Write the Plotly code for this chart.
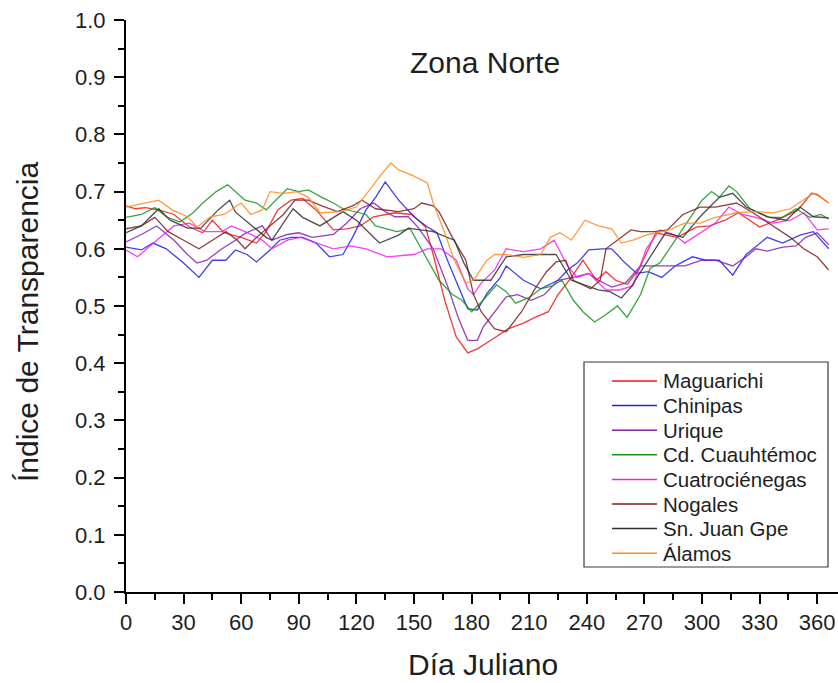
import plotly.graph_objects as go

# --- Índice de transparencia diario, estaciones de la zona norte ---
maguarichi_dia = [0, 5, 10, 17, 25, 33, 40, 45, 51, 60, 68, 73, 79, 86, 92, 99, 108, 115, 122, 129,
                  140, 149, 156, 160, 166, 172, 178, 183, 190, 199, 207, 213, 220, 225, 232, 238, 245,
                  250, 255, 261, 267, 276, 287, 297, 304, 312, 319, 330, 339, 350, 357, 360, 366]
maguarichi_val = [0.675, 0.670, 0.672, 0.668, 0.660, 0.638, 0.628, 0.650, 0.628, 0.620, 0.610, 0.630,
                  0.668, 0.685, 0.688, 0.668, 0.633, 0.635, 0.640, 0.656, 0.663, 0.660, 0.638, 0.590,
                  0.510, 0.446, 0.418, 0.425, 0.440, 0.460, 0.470, 0.480, 0.490, 0.520, 0.550, 0.580,
                  0.545, 0.560, 0.545, 0.538, 0.563, 0.628, 0.620, 0.638, 0.640, 0.650, 0.663, 0.638,
                  0.650, 0.668, 0.697, 0.695, 0.680]

chinipas_dia = [0, 8, 14, 21, 30, 38, 45, 52, 57, 63, 68, 75, 80, 86, 92, 99, 106, 113, 118, 125,
                130, 135, 142, 150, 157, 162, 168, 174, 178, 183, 188, 195, 198, 207, 216, 225, 230,
                235, 241, 248, 253, 260, 266, 272, 279, 286, 295, 302, 309, 316, 323, 334, 342, 351,
                358, 366]
chinipas_val = [0.603, 0.598, 0.610, 0.600, 0.575, 0.550, 0.580, 0.580, 0.598, 0.590, 0.577, 0.598,
                0.615, 0.620, 0.620, 0.610, 0.586, 0.590, 0.620, 0.668, 0.690, 0.717, 0.685, 0.656,
                0.638, 0.628, 0.575, 0.528, 0.495, 0.493, 0.522, 0.550, 0.570, 0.545, 0.530, 0.545,
                0.563, 0.575, 0.598, 0.600, 0.600, 0.575, 0.557, 0.560, 0.550, 0.570, 0.586, 0.580,
                0.580, 0.554, 0.590, 0.620, 0.610, 0.624, 0.630, 0.600]

urique_dia = [0, 8, 16, 25, 32, 37, 42, 50, 57, 62, 71, 76, 84, 90, 97, 108, 115, 122, 129, 135,
              140, 147, 152, 160, 168, 173, 178, 183, 186, 192, 198, 204, 211, 218, 225, 233, 241,
              246, 253, 260, 268, 275, 282, 291, 300, 307, 316, 323, 328, 334, 342, 349, 354, 360, 366]
urique_val = [0.612, 0.625, 0.640, 0.615, 0.590, 0.575, 0.580, 0.600, 0.615, 0.627, 0.640, 0.615,
              0.625, 0.628, 0.620, 0.625, 0.645, 0.670, 0.680, 0.665, 0.656, 0.656, 0.638, 0.600,
              0.530, 0.480, 0.440, 0.440, 0.463, 0.490, 0.516, 0.520, 0.510, 0.520, 0.545, 0.550,
              0.557, 0.545, 0.533, 0.540, 0.570, 0.570, 0.570, 0.570, 0.580, 0.580, 0.570, 0.586,
              0.600, 0.596, 0.603, 0.605, 0.620, 0.628, 0.607]

cuauhtemoc_dia = [0, 8, 15, 21, 28, 35, 40, 47, 53, 57, 62, 68, 73, 78, 84, 90, 95, 102, 108, 113,
                  125, 130, 141, 148, 154, 163, 170, 175, 180, 186, 193, 198, 203, 210, 216, 222, 227,
                  233, 238, 244, 250, 256, 261, 268, 273, 278, 283, 289, 295, 300, 305, 309, 314, 318,
                  325, 335, 342, 349, 356, 362, 366]
cuauhtemoc_val = [0.655, 0.660, 0.672, 0.656, 0.647, 0.663, 0.680, 0.700, 0.712, 0.700, 0.685, 0.680,
                  0.668, 0.685, 0.705, 0.700, 0.703, 0.690, 0.680, 0.670, 0.660, 0.640, 0.630, 0.635,
                  0.600, 0.545, 0.520, 0.510, 0.490, 0.510, 0.537, 0.525, 0.505, 0.515, 0.530, 0.535,
                  0.545, 0.510, 0.490, 0.472, 0.485, 0.500, 0.480, 0.520, 0.566, 0.575, 0.600, 0.630,
                  0.660, 0.685, 0.700, 0.690, 0.710, 0.700, 0.670, 0.655, 0.655, 0.670, 0.655, 0.660,
                  0.652]

cuatrocienegas_dia = [0, 6, 16, 25, 33, 41, 50, 55, 62, 71, 76, 84, 91, 99, 108, 117, 125, 136, 150,
                      157, 164, 172, 178, 181, 185, 192, 198, 207, 216, 223, 230, 235, 241, 250, 257,
                      264, 271, 278, 286, 291, 299, 307, 314, 321, 328, 337, 346, 353, 360, 366]
cuatrocienegas_val = [0.598, 0.586, 0.615, 0.640, 0.645, 0.630, 0.630, 0.640, 0.630, 0.615, 0.600,
                      0.615, 0.620, 0.610, 0.600, 0.605, 0.600, 0.586, 0.590, 0.600, 0.600, 0.580,
                      0.530, 0.520, 0.540, 0.563, 0.600, 0.595, 0.600, 0.615, 0.570, 0.550, 0.557,
                      0.528, 0.528, 0.535, 0.600, 0.633, 0.624, 0.610, 0.628, 0.645, 0.673, 0.660,
                      0.655, 0.645, 0.650, 0.663, 0.633, 0.635]

nogales_dia = [0, 8, 15, 22, 30, 38, 45, 52, 58, 62, 68, 75, 82, 88, 95, 102, 110, 118, 123, 130,
               142, 150, 154, 160, 163, 170, 177, 181, 185, 192, 198, 206, 213, 219, 224, 229, 233,
               242, 247, 250, 258, 263, 268, 275, 282, 290, 299, 307, 318, 328, 337, 346, 353, 360, 366]
nogales_val = [0.635, 0.640, 0.655, 0.630, 0.615, 0.600, 0.615, 0.630, 0.615, 0.600, 0.620, 0.640,
               0.660, 0.685, 0.685, 0.675, 0.665, 0.675, 0.685, 0.670, 0.665, 0.670, 0.680, 0.675,
               0.665, 0.620, 0.580, 0.520, 0.490, 0.460, 0.455, 0.490, 0.530, 0.560, 0.577, 0.580,
               0.545, 0.530, 0.545, 0.600, 0.620, 0.633, 0.630, 0.630, 0.633, 0.660, 0.673, 0.673,
               0.680, 0.660, 0.640, 0.620, 0.600, 0.586, 0.563]

sn_juan_dia = [0, 8, 17, 23, 32, 39, 48, 54, 57, 64, 73, 76, 82, 87, 92, 101, 113, 120, 132, 142,
               147, 160, 171, 176, 181, 190, 198, 207, 216, 224, 232, 240, 246, 252, 258, 263, 272,
               281, 290, 299, 309, 316, 323, 334, 344, 351, 358, 366]
sn_juan_val = [0.628, 0.640, 0.670, 0.650, 0.636, 0.636, 0.668, 0.685, 0.664, 0.645, 0.620, 0.615,
               0.645, 0.670, 0.655, 0.640, 0.665, 0.650, 0.610, 0.624, 0.636, 0.630, 0.615, 0.575,
               0.545, 0.545, 0.586, 0.590, 0.590, 0.590, 0.545, 0.535, 0.528, 0.525, 0.514, 0.533,
               0.580, 0.628, 0.620, 0.656, 0.690, 0.697, 0.673, 0.656, 0.650, 0.673, 0.656, 0.654]

alamos_dia = [0, 10, 17, 24, 32, 37, 44, 51, 60, 65, 71, 75, 82, 89, 95, 101, 112, 120, 126, 133,
              138, 142, 150, 157, 160, 166, 171, 177, 181, 188, 192, 198, 207, 216, 221, 226, 232,
              239, 246, 253, 258, 264, 272, 283, 291, 299, 307, 318, 328, 337, 346, 353, 358, 362, 366]
alamos_val = [0.673, 0.680, 0.685, 0.668, 0.656, 0.638, 0.656, 0.660, 0.680, 0.660, 0.668, 0.700,
              0.697, 0.700, 0.690, 0.663, 0.665, 0.673, 0.700, 0.730, 0.750, 0.738, 0.727, 0.715,
              0.680, 0.628, 0.580, 0.540, 0.545, 0.580, 0.590, 0.590, 0.585, 0.590, 0.620, 0.628,
              0.615, 0.650, 0.640, 0.635, 0.610, 0.615, 0.625, 0.633, 0.645, 0.645, 0.655, 0.663,
              0.665, 0.663, 0.670, 0.685, 0.697, 0.690, 0.680]

estaciones = ["Maguarichi", "Chinipas", "Urique", "Cd. Cuauhtémoc", "Cuatrociénegas",
              "Nogales", "Sn. Juan Gpe", "Álamos"]
dias = [maguarichi_dia, chinipas_dia, urique_dia, cuauhtemoc_dia, cuatrocienegas_dia,
        nogales_dia, sn_juan_dia, alamos_dia]
valores = [maguarichi_val, chinipas_val, urique_val, cuauhtemoc_val, cuatrocienegas_val,
           nogales_val, sn_juan_val, alamos_val]
colores = ["#F01818", "#2020E8", "#8A1FB0", "#16961A", "#F020F0", "#7E1F1F", "#303030", "#FF8A1E"]

titulo = "Zona Norte"
titulo_x = "Día Juliano"
titulo_y = "Índice de Transparencia"

# --- page geometry (pixels) ---
W, H = 838, 683
ML, MR, MT, MB = 126, 0, 20, 91
PW, PH = W - ML - MR, H - MT - MB
FONT = "Liberation Sans, Arial, Helvetica, sans-serif"
TXT = "#1e1e1e"


def px(xp):
    return (xp - ML) / PW


def py(yp):
    return (H - MB - yp) / PH


fig = go.Figure()
for nombre, d, v, c in zip(estaciones, dias, valores, colores):
    fig.add_trace(go.Scatter(x=d, y=v, mode="lines", name=nombre,
                             line=dict(color=c, width=1.3), opacity=0.85,
                             showlegend=False))

# legend box drawn in page coordinates
shapes = [dict(type="rect", xref="paper", yref="paper",
               x0=px(584), x1=px(828), y0=py(362), y1=py(567),
               line=dict(color="#3a3a3a", width=1.2), fillcolor="white", layer="below")]
annotations = []
for i, (nombre, c) in enumerate(zip(estaciones, colores)):
    yc = 381 + i * 24.6
    shapes.append(dict(type="line", xref="paper", yref="paper",
                       x0=px(612), x1=px(657), y0=py(yc), y1=py(yc),
                       line=dict(color=c, width=1.5)))
    annotations.append(dict(text=nombre, xref="paper", yref="paper", x=px(661), y=py(yc),
                            xanchor="left", yanchor="middle", showarrow=False,
                            font=dict(family=FONT, size=20.5, color=TXT)))

annotations += [
    dict(text=titulo, xref="paper", yref="paper", x=px(485), y=py(62), xanchor="center",
         yanchor="middle", showarrow=False, font=dict(family=FONT, size=30, color=TXT)),
    dict(text=titulo_x, xref="paper", yref="paper", x=px(483), y=py(664), xanchor="center",
         yanchor="middle", showarrow=False, font=dict(family=FONT, size=30, color=TXT)),
    dict(text=titulo_y, xref="paper", yref="paper", x=px(28), y=py(322), xanchor="center",
         yanchor="middle", textangle=-90, showarrow=False,
         font=dict(family=FONT, size=30, color=TXT)),
]

axis_common = dict(showgrid=False, zeroline=False, showline=True, linecolor="black",
                   linewidth=2, ticks="outside", ticklen=10, tickwidth=2, tickcolor="black",
                   tickfont=dict(family=FONT, size=22, color=TXT))

fig.update_layout(
    width=W, height=H,
    margin=dict(l=ML, r=MR, t=MT, b=MB, pad=0),
    paper_bgcolor="white", plot_bgcolor="white",
    shapes=shapes, annotations=annotations,
    xaxis=dict(range=[0, PW / 1.92], tickmode="linear", tick0=0, dtick=30,
               minor=dict(dtick=15, ticks="outside", ticklen=6, tickwidth=2, tickcolor="black",
                          showgrid=False),
               **axis_common),
    yaxis=dict(range=[0, 1.0], tickmode="linear", tick0=0, dtick=0.1, tickformat=".1f",
               ticklabelstandoff=4,
               minor=dict(dtick=0.05, ticks="outside", ticklen=6, tickwidth=2,
                          tickcolor="black", showgrid=False),
               **axis_common),
)

fig.write_html("out.html")
